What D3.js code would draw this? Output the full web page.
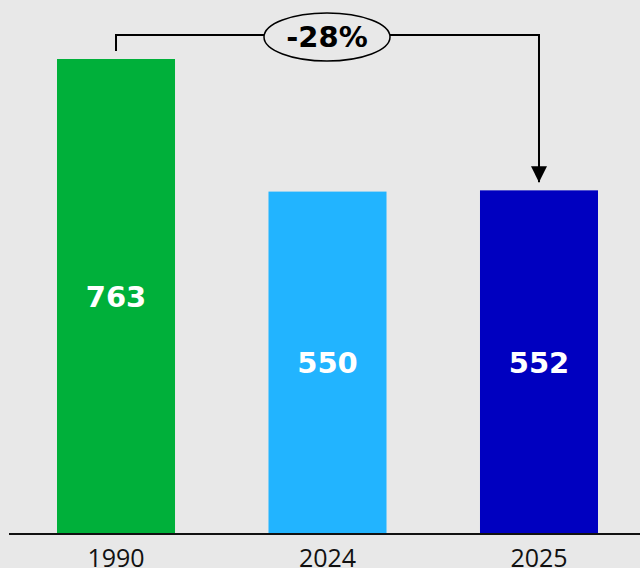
<!DOCTYPE html>
<html>
<head>
<meta charset="utf-8">
<script src="https://cdn.jsdelivr.net/npm/d3@7"></script>
<style>
  html, body { margin: 0; padding: 0; background: #e8e8e8; }
  svg { display: block; }
</style>
</head>
<body>
<div id="chart"></div>
<script>
var years = ['1990', '2024', '2025']
var values = [763, 550, 552]
var colors = ['#00b03a', '#22b4ff', '#0000c0']
var changeLabel = '-28%'

var w = 640
var h = 568
var baseY = 534

var svg = d3.select('#chart').append('svg')
  .attr('width', w)
  .attr('height', h)

svg.append('rect')
  .attr('width', w)
  .attr('height', h)
  .attr('fill', '#e8e8e8')

// scales
var x = d3.scaleBand()
  .domain(years)
  .range([14.7, 640.3])
  .paddingInner(0.442)
  .paddingOuter(0.2)

var y = d3.scaleLinear()
  .domain([0, 763])
  .range([baseY, 59])

// bars
svg.selectAll('rect.bar')
  .data(values)
  .enter().append('rect')
  .attr('class', 'bar')
  .attr('x', (d, i) => x(years[i]))
  .attr('y', d => y(d))
  .attr('width', x.bandwidth())
  .attr('height', d => baseY - y(d))
  .attr('fill', (d, i) => colors[i])

// values inside the bars
svg.selectAll('text.val')
  .data(values)
  .enter().append('text')
  .attr('class', 'val')
  .attr('x', (d, i) => x(years[i]) + x.bandwidth() / 2)
  .attr('y', d => (y(d) + baseY) / 2)
  .attr('dy', '0.36em')
  .attr('text-anchor', 'middle')
  .attr('font-family', 'DejaVu Sans')
  .attr('font-weight', 'bold')
  .attr('font-size', 29)
  .attr('fill', '#fff')
  .text(d => d)

// baseline axis
var axis = d3.axisBottom(x).tickSize(0).tickPadding(15)
var gx = svg.append('g')
  .attr('transform', 'translate(0,' + baseY + ')')
  .call(axis)
gx.select('.domain').remove()
gx.append('line')
  .attr('x1', 9).attr('x2', w)
  .attr('stroke', '#111')
  .attr('stroke-width', 2)
gx.selectAll('.tick text')
  .attr('font-family', 'Open Sans')
  .attr('font-size', 25)
  .attr('fill', '#111')

// change annotation
var x0 = x('1990') + x.bandwidth() / 2
var x1 = x('2025') + x.bandwidth() / 2
var topY = 35

svg.append('defs').append('marker')
  .attr('id', 'arrow')
  .attr('viewBox', '0 0 10 10')
  .attr('refX', 10).attr('refY', 5)
  .attr('markerUnits', 'userSpaceOnUse')
  .attr('markerWidth', 16).attr('markerHeight', 16)
  .attr('orient', 'auto')
  .append('path')
  .attr('d', 'M0,0L10,5L0,10Z')
  .attr('fill', '#000')

svg.append('path')
  .attr('d', 'M' + x0 + ',' + (y(763) - 8) + 'V' + topY + 'H' + x1 + 'V' + (y(552) - 8))
  .attr('fill', 'none')
  .attr('stroke', '#000')
  .attr('stroke-width', 2)
  .attr('marker-end', 'url(#arrow)')

var cx = 327
svg.append('ellipse')
  .attr('cx', cx).attr('cy', 37)
  .attr('rx', 63).attr('ry', 24)
  .attr('fill', '#e8e8e8')
  .attr('stroke', '#000')
  .attr('stroke-width', 1.5)

svg.append('text')
  .attr('x', cx)
  .attr('y', 37)
  .attr('dy', '0.36em')
  .attr('text-anchor', 'middle')
  .attr('font-family', 'DejaVu Sans')
  .attr('font-weight', 'bold')
  .attr('font-size', 29)
  .attr('fill', '#000')
  .text(changeLabel)
</script>
</body>
</html>
